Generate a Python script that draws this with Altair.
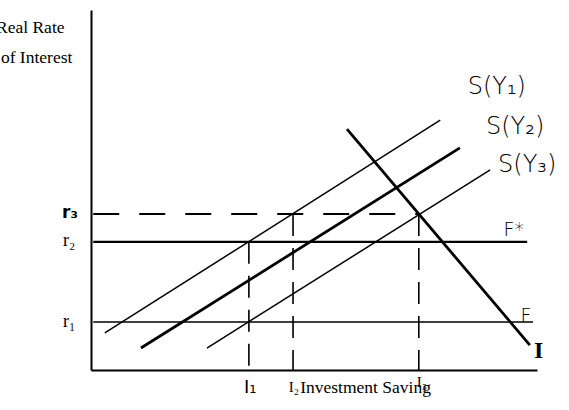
import altair as alt
import pandas as pd

# ---- data (chart units: x 0-100 investment/saving, y 0-100 real rate) ----
r1, r2, r3 = 13.3, 35.6, 43.3
I1, I2, I3 = 35.4, 45.3, 73.5

# S(Y) schedules and I schedule: start/end points
sy1 = [(3.1, 10.3), (78.3, 69.4)]
sy2 = [(11.2, 6.1), (82.7, 61.7)]
sy3 = [(26.0, 6.1), (89.5, 55.6)]
inv = [(57.4, 66.9), (98.4, 6.9)]

# horizontal rate lines: (y, x_start, x_end)
f_star = (r2, 0.5, 97.8)
f_line = (r1, 0.5, 99.1)
r3_dash = (r3, 0.5, I3)

# vertical dashed lines: (x, y_top)
verticals = [(I1, r2), (I2, r3), (I3, r3)]

xs = alt.Scale(domain=[0, 100], nice=False, zero=False)
ys = alt.Scale(domain=[0, 100], nice=False, zero=False)
ax = alt.Axis(labels=False, ticks=False, grid=False, title=None,
              domainWidth=2, domainColor="black")


def seg_df(segs):
    return pd.DataFrame([{"x": a[0], "y": a[1], "x2": b[0], "y2": b[1]} for a, b in segs])


def rules(df, **kw):
    return alt.Chart(df).mark_rule(color="black", strokeCap="butt", **kw).encode(
        x=alt.X("x:Q", scale=xs, axis=ax),
        y=alt.Y("y:Q", scale=ys, axis=ax),
        x2="x2:Q",
        y2="y2:Q",
    )


thin = seg_df([sy1, sy3, [(f_line[1], f_line[0]), (f_line[2], f_line[0])]])
thick = seg_df([sy2, inv])
fstar_df = seg_df([[(f_star[1], f_star[0]), (f_star[2], f_star[0])]])
dash_h = seg_df([[(r3_dash[1], r3_dash[0]), (r3_dash[2], r3_dash[0])]])
dash_v = seg_df([[(x, yt), (x, 0)] for x, yt in verticals])


def texts(labels, xsv, ysv, **kw):
    df = pd.DataFrame({"t": labels, "x": xsv, "y": ysv})
    return alt.Chart(df).mark_text(color="black", **kw).encode(
        x=alt.X("x:Q", scale=xs, axis=ax),
        y=alt.Y("y:Q", scale=ys, axis=ax),
        text="t:N",
    )


serif_left = texts(["Real Rate", "of Interest", "Investment Saving"],
                   [-21.3, -20.2, 46.9], [93.6, 85.3, -6.4],
                   font="Liberation Serif", fontSize=17.5, align="left", baseline="alphabetic")
r_labels = texts(["r₂", "r₁"], [-4.9, -4.9], [35.8, 13.3],
                 font="Liberation Serif", fontSize=18, align="center", baseline="middle")
r3_label = texts(["r₃"], [-4.7], [43.6],
                 font="DejaVu Sans", fontSize=17, fontWeight="bold", align="center", baseline="middle")
s_labels = texts(["S(Y₁)", "S(Y₂)", "S(Y₃)"], [91.0, 95.1, 97.8], [78.6, 67.5, 56.9],
                 font="DejaVu Sans", fontSize=24, fontWeight=200, align="center", baseline="middle")
f_labels = texts(["F*", "F"], [94.8, 97.5], [38.9, 15.0],
                 font="DejaVu Sans", fontSize=19, fontWeight=200, align="center", baseline="middle")
i_label = texts(["I"], [100.4], [5.3],
                font="Liberation Serif", fontSize=24, fontWeight="bold", align="center", baseline="middle")
i1_label = texts(["I₁"], [35.7], [-5.0],
                 font="DejaVu Sans", fontSize=18, align="center", baseline="middle")
i23_labels = texts(["I₂", "I₃"], [45.5, 74.2], [-4.7, -3.3],
                   font="Liberation Serif", fontSize=15, align="center", baseline="middle")

chart = alt.layer(
    rules(thin, strokeWidth=1.5),
    rules(thick, strokeWidth=2.8),
    rules(fstar_df, strokeWidth=2.2),
    rules(dash_h, strokeWidth=2, strokeDash=[26, 20]),
    rules(dash_v, strokeWidth=1.6, strokeDash=[22, 12]),
    serif_left, r_labels, r3_label, s_labels, f_labels, i_label, i1_label, i23_labels,
).properties(
    width=446, height=360,
    padding={"left": 91, "top": 10, "right": 32, "bottom": 40},
    autosize=alt.AutoSizeParams(type="none"),
    background="white",
).configure_view(stroke=None)

chart.save("out.html", embed_options={"renderer": "svg", "actions": False})
